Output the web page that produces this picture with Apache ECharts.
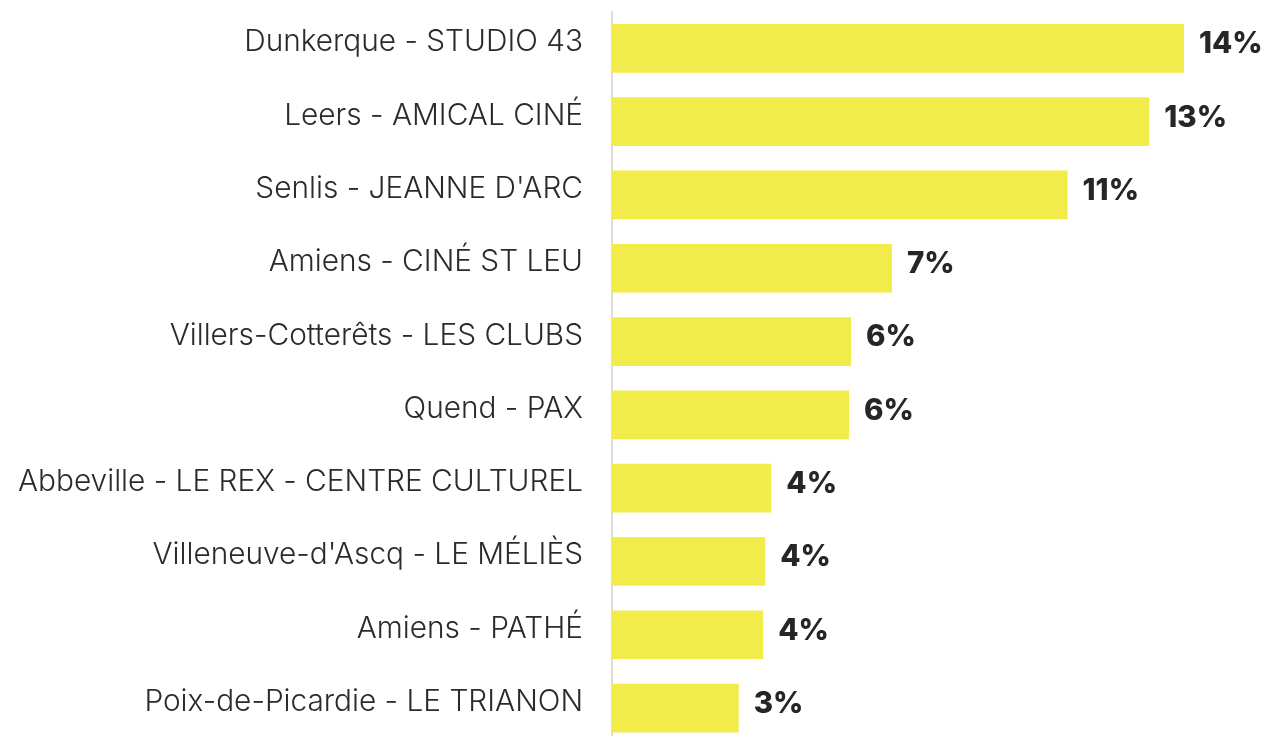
<!DOCTYPE html>
<html>
<head>
<meta charset="utf-8">
<style>
  html, body { margin: 0; padding: 0; background: #fff; }
  #main { width: 1268px; height: 736px; }
</style>
<script src="https://cdn.jsdelivr.net/npm/echarts@6/dist/echarts.min.js"></script>
</head>
<body>
<div id="main"></div>
<script>
  // cinemas, top to bottom
  var cinemas = [
    'Dunkerque - STUDIO 43',
    'Leers - AMICAL CINÉ',
    'Senlis - JEANNE D\'ARC',
    'Amiens - CINÉ ST LEU',
    'Villers-Cotterêts - LES CLUBS',
    'Quend - PAX',
    'Abbeville - LE REX - CENTRE CULTUREL',
    'Villeneuve-d\'Ascq - LE MÉLIÈS',
    'Amiens - PATHÉ',
    'Poix-de-Picardie - LE TRIANON'
  ];
  // share (%)
  var shares = [14.0, 13.15, 11.15, 6.85, 5.85, 5.8, 3.9, 3.75, 3.7, 3.1];

  var chart = echarts.init(document.getElementById('main'));
  chart.setOption({
    animation: false,
    grid: {
      left: 612,
      top: 11.7,
      width: 612.9,
      height: 733,
      outerBoundsMode: 'none'
    },
    xAxis: {
      type: 'value',
      min: 0,
      max: 15,
      show: false
    },
    yAxis: {
      type: 'category',
      inverse: true,
      data: cinemas,
      axisLine: { show: true, lineStyle: { color: '#dddddd', width: 2 } },
      axisTick: { show: false },
      axisLabel: {
        margin: 29,
        color: '#2b2b2b',
        fontFamily: 'Inter',
        fontWeight: 300,
        fontSize: 29.8,
        verticalAlign: 'bottom',
        lineHeight: 12
      }
    },
    series: [{
      type: 'bar',
      data: shares,
      barWidth: 48.7,
      itemStyle: { color: '#f2ec4a' },
      label: {
        show: true,
        position: 'right',
        distance: 15,
        offset: [0, -4],
        color: '#262626',
        fontFamily: 'Inter',
        fontWeight: 800,
        fontSize: 29.5,
        formatter: function (p) { return Math.round(p.value) + '%'; }
      }
    }]
  });
</script>
</body>
</html>
